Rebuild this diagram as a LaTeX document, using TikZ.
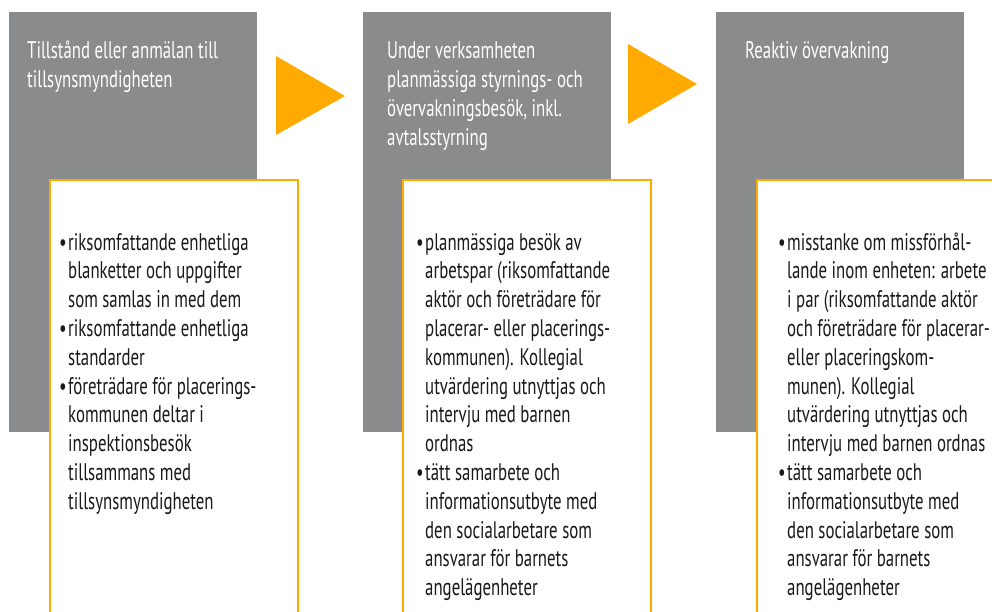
\documentclass[tikz,border=0pt]{standalone}
\usepackage{fontspec}
\setmainfont[FakeStretch=0.7]{PT Sans}
\usetikzlibrary{positioning}
\definecolor{phasegray}{RGB}{137,139,141}
\definecolor{phaseorange}{RGB}{255,170,0}
\newcommand{\itm}{\makebox[9pt][l]{•}}
\newcommand{\cnt}{\hspace*{9pt}}

\begin{document}
\begin{tikzpicture}[x=1pt,y=-1pt]
 	\tikzstyle{phase}=[rectangle, fill=phasegray, anchor=north west, minimum width=248pt, minimum height=420pt, inner sep=0pt]
 	\tikzstyle{card}=[rectangle, fill=white, draw=phaseorange, line width=2pt, anchor=north west, minimum width=248pt, minimum height=440pt, inner sep=0pt]
 	\tikzstyle{title}=[anchor=base west, align=left, text=white, inner sep=0pt, font=\fontsize{24}{29}\selectfont]
 	\tikzstyle{items}=[anchor=base west, align=left, text=black!90, inner sep=0pt, font=\fontsize{24}{28.8}\selectfont]
 	\tikzstyle{pointer}=[fill=phaseorange]
 	\useasboundingbox (0,0) rectangle (992,611);
 	\clip (0,0) rectangle (992,611);
 	% grey phase boxes
 	\node[phase] (p1) at (9,12) {};
 	\node[phase] (p2) at (363,12) {};
 	\node[phase] (p3) at (716,12) {};
 	% titles (placed by the baseline of their last line)
 	\node[title] (t1) at (27,87) {Tillstånd eller anmälan till\\tillsynsmyndigheten};
 	\node[title] (t2) at (387,145) {Under verksamheten\\planmässiga styrnings- och\\övervakningsbesök, inkl.\\avtalsstyrning};
 	\node[title] (t3) at (745,58) {Reaktiv övervakning};
 	% arrows between phases
 	\fill[pointer] (276,56) -- (345,96) -- (276,135) -- cycle;
 	\fill[pointer] (628,44) -- (697,84) -- (628,124) -- cycle;
 	% white cards
 	\node[card] (c1) at (49,179) {};
 	\node[card] (c2) at (402,179) {};
 	\node[card] (c3) at (756,179) {};
 	\node[items] (l1) at (59,509.2) {\itm riksomfattande enhetliga\\\cnt blanketter och uppgifter\\\cnt som samlas in med dem\\\itm riksomfattande enhetliga\\\cnt standarder\\\itm företrädare för placerings-\\\cnt kommunen deltar i\\\cnt inspektionsbesök\\\cnt tillsammans med\\\cnt tillsynsmyndigheten};
 	\node[items] (l2) at (416,595.6) {\itm planmässiga besök av\\\cnt arbetspar (riksomfattande\\\cnt aktör och företrädare för\\\cnt placerar- eller placerings-\\\cnt kommunen). Kollegial\\\cnt utvärdering utnyttjas och\\\cnt intervju med barnen\\\cnt ordnas\\\itm tätt samarbete och\\\cnt informationsutbyte med\\\cnt den socialarbetare som\\\cnt ansvarar för barnets\\\cnt angelägenheter};
 	\node[items] (l3) at (778,595.6) {\itm misstanke om missförhål-\\\cnt lande inom enheten: arbete\\\cnt i par (riksomfattande aktör\\\cnt och företrädare för placerar-\\\cnt eller placeringskom-\\\cnt munen). Kollegial\\\cnt utvärdering utnyttjas och\\\cnt intervju med barnen ordnas\\\itm tätt samarbete och\\\cnt informationsutbyte med\\\cnt den socialarbetare som\\\cnt ansvarar för barnets\\\cnt angelägenheter};
\end{tikzpicture}
\end{document}
